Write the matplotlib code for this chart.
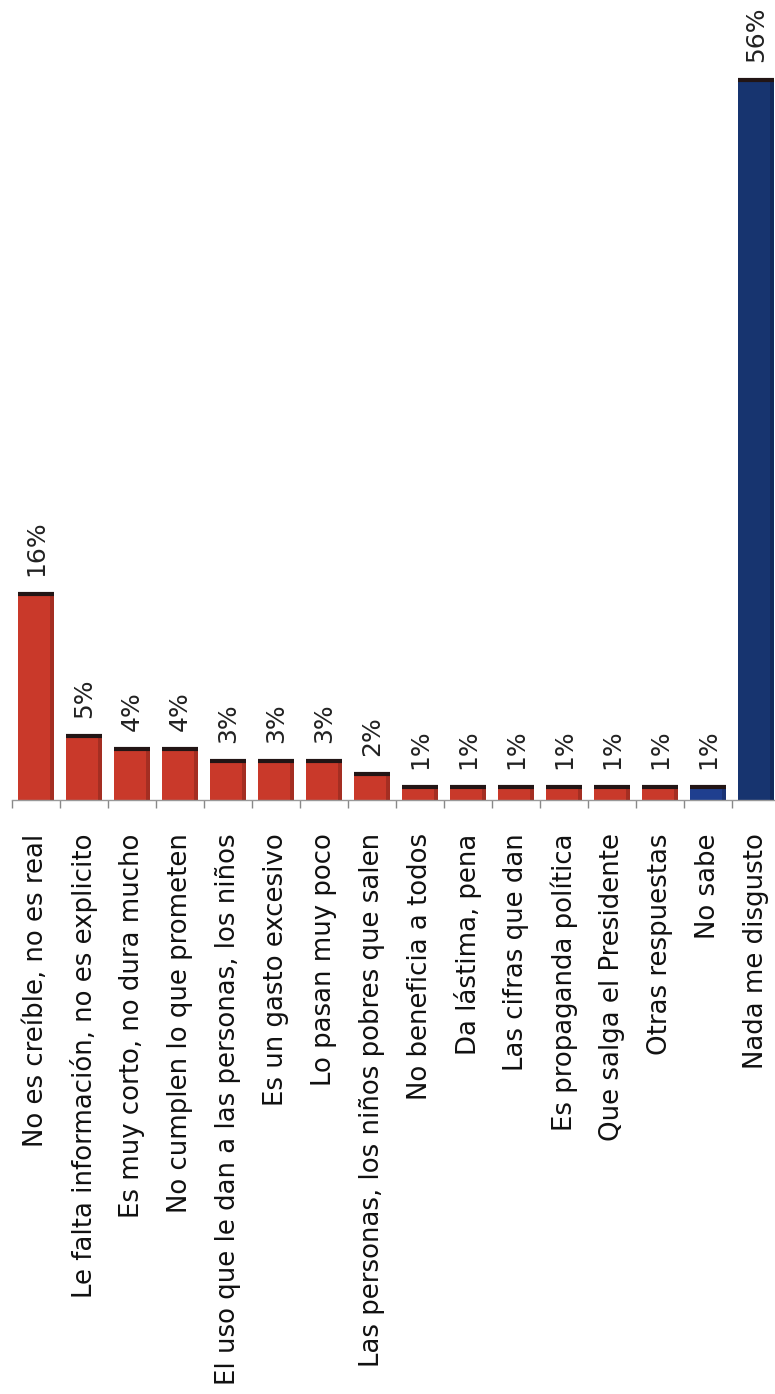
import matplotlib
matplotlib.use("Agg")
import matplotlib.pyplot as plt
import numpy as np

# Survey responses: what people dislike about it (percent)
categories = [
    "No es creíble, no es real",
    "Le falta información, no es explicito",
    "Es muy corto, no dura mucho",
    "No cumplen lo que prometen",
    "El uso que le dan a las personas, los niños",
    "Es un gasto excesivo",
    "Lo pasan muy poco",
    "Las personas, los niños pobres que salen",
    "No beneficia a todos",
    "Da lástima, pena",
    "Las cifras que dan",
    "Es propaganda política",
    "Que salga el Presidente",
    "Otras respuestas",
    "No sabe",
    "Nada me disgusto",
]
values = [16, 5, 4, 4, 3, 3, 3, 2, 1, 1, 1, 1, 1, 1, 1, 56]
value_labels = ["16%", "5%", "4%", "4%", "3%", "3%", "3%", "2%",
                "1%", "1%", "1%", "1%", "1%", "1%", "1%", "56%"]

RED = "#c9392a"
BLUE_LIGHT = "#1f3f8f"
BLUE_DARK = "#17346f"
bar_colors = [RED] * 14 + [BLUE_LIGHT, BLUE_DARK]

W, H, DPI = 775, 1394, 100
fig = plt.figure(figsize=(W / DPI, H / DPI), dpi=DPI)

px_per_unit = 12.85
ymax = 60
base_px = 800  # baseline, pixels from top
ax_h = ymax * px_per_unit
ax = fig.add_axes([12 / W, (H - base_px) / H, 768 / W, ax_h / H])

x = np.arange(len(categories))
width = 0.75
ax.bar(x, values, width=width, color=bar_colors, edgecolor="none", zorder=2)

# darker right-hand shading and a dark top cap on every bar
for xi, v in zip(x, values):
    ax.bar(xi + width / 2 - 0.04, v, width=0.08, color="black", alpha=0.18,
           edgecolor="none", zorder=3)
ax.hlines(values, x - width / 2, x + width / 2, colors="#221515",
          linewidth=3, zorder=4)

for xi, v, lab in zip(x, values, value_labels):
    ax.annotate(lab, (xi, v), xytext=(0, 13), textcoords="offset points",
                rotation=90, ha="center", va="bottom", fontsize=18,
                color="#222222", family="DejaVu Sans")

ax.set_xlim(-0.5, len(categories) - 0.5)
ax.set_ylim(0, ymax)

for s in ["top", "right", "left"]:
    ax.spines[s].set_visible(False)
ax.spines["bottom"].set_color("#999999")
ax.spines["bottom"].set_linewidth(1.0)
ax.set_yticks([])

ax.set_xticks(x)
ax.set_xticklabels(categories, rotation=90, fontsize=18.7, color="#111111",
                   family="DejaVu Sans")
ax.tick_params(axis="x", which="major", length=0, pad=24)
ax.set_xticks(np.arange(-0.5, len(categories), 1.0), minor=True)
ax.tick_params(axis="x", which="minor", length=6, width=1, color="#888888")

fig.savefig("out.png", dpi=DPI)
